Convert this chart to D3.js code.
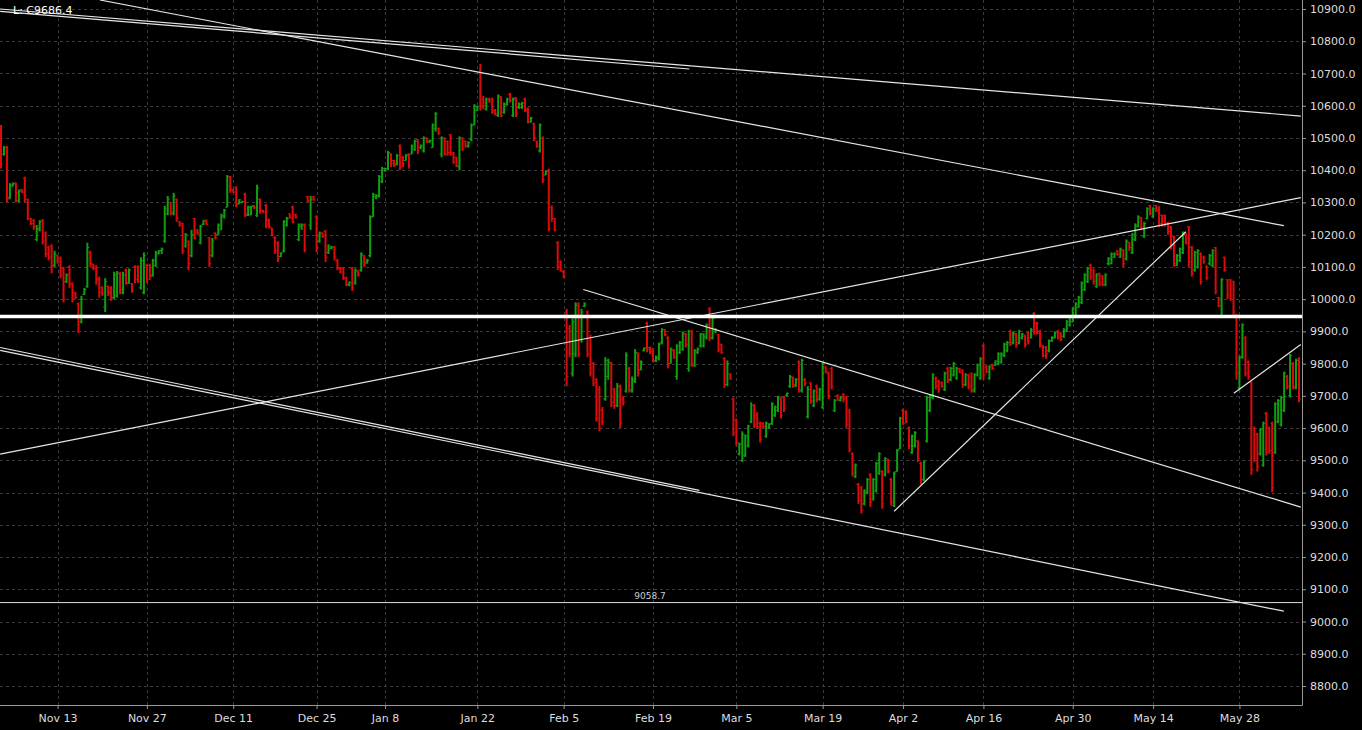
<!DOCTYPE html>
<html><head><meta charset="utf-8">
<script src="https://cdn.jsdelivr.net/npm/d3@7"></script>
<style>html,body{margin:0;padding:0;background:#000;overflow:hidden}</style>
</head><body><svg id="c" width="1362" height="730"></svg>
<script>
// OHLC bars [open, high, low, close], grouped by the date label that precedes them
const preNov13=[[10500,10540,10405,10420],[10450,10475,10445,10470],[10470,10475,10300,10310],[10315,10360,10310,10355],[10350,10362,10350,10358],[10360,10362,10300,10330],[10305,10340,10300,10335],[10340,10342,10330,10332],[10375,10380,10300,10320],[10310,10312,10245,10250],[10250,10252,10230,10235],[10245,10248,10215,10225],[10185,10230,10180,10220],[10215,10245,10210,10240],[10245,10248,10170,10180],[10205,10210,10130,10140],[10160,10165,10120,10130],[10165,10170,10080,10100],[10105,10150,10100,10140]];
const nov13=[[10135,10137,10110,10115],[10130,10132,10065,10075],[10095,10100,9990,10000],[10055,10080,10050,10075],[10100,10105,10035,10045],[10050,10052,9990,10000],[10020,10022,10000,10005],[9985,9990,9895,9920],[9930,10010,9925,10000],[10015,10035,10013,10030],[10040,10175,10035,10160],[10145,10150,10100,10110],[10108,10110,10090,10095],[10100,10105,10045,10060],[10065,10070,10005,10020],[10035,10040,10010,10015],[9975,10065,9960,10055],[10040,10042,10010,10020],[10035,10040,9995,10000],[10005,10085,10000,10075],[10010,10087,10005,10080],[10080,10085,10015,10030],[10020,10085,10015,10075],[10090,10095,10045,10050],[10050,10095,10048,10090],[10048,10050,10020,10025],[10100,10105,10050,10060],[10100,10105,10050,10055],[10035,10130,10030,10120],[10020,10145,10015,10135]];
const nov27=[[10105,10110,10050,10060],[10105,10110,10060,10070],[10075,10125,10070,10120],[10105,10150,10100,10145],[10140,10152,10140,10150],[10150,10160,10140,10155],[10180,10290,10175,10280],[10265,10320,10260,10310],[10300,10302,10260,10270],[10265,10330,10260,10320],[10310,10312,10240,10250],[10240,10242,10225,10230],[10235,10237,10140,10150],[10165,10205,10160,10200],[10180,10182,10090,10110],[10135,10215,10130,10200],[10250,10252,10185,10190],[10215,10217,10200,10205],[10175,10230,10170,10225],[10232,10245,10230,10243],[10245,10247,10230,10233],[10190,10192,10100,10110],[10135,10190,10130,10180],[10205,10207,10185,10190],[10200,10235,10200,10230],[10215,10265,10215,10260],[10255,10280,10250,10275],[10285,10385,10285,10380],[10380,10382,10330,10340]];
const dec11=[[10340,10342,10330,10332],[10345,10350,10285,10295],[10295,10310,10295,10308],[10300,10305,10298,10303],[10325,10330,10255,10265],[10260,10290,10258,10285],[10262,10290,10260,10287],[10290,10292,10280,10283],[10260,10355,10255,10345],[10310,10312,10265,10275],[10275,10277,10268,10270],[10290,10295,10220,10230],[10245,10250,10220,10225],[10220,10222,10195,10200],[10190,10195,10140,10150],[10175,10180,10115,10125],[10132,10145,10130,10143],[10150,10245,10145,10240],[10230,10255,10225,10250],[10265,10265,10250,10252],[10285,10290,10235,10240],[10262,10265,10250,10255],[10185,10235,10180,10230],[10225,10235,10215,10230],[10230,10235,10145,10155],[10318,10320,10300,10305],[10230,10320,10215,10310],[10318,10320,10305,10308]];
const dec25=[[10255,10260,10145,10160],[10180,10210,10175,10205],[10205,10207,10190,10195],[10210,10215,10115,10130],[10145,10170,10140,10165],[10158,10165,10155,10162],[10160,10165,10120,10130],[10120,10125,10090,10095],[10098,10100,10080,10085],[10095,10100,10060,10065],[10065,10070,10040,10045],[10045,10055,10040,10052],[10095,10100,10025,10035],[10050,10095,10045,10090],[10085,10090,10070,10075],[10090,10145,10085,10140],[10135,10137,10100,10110],[10115,10125,10110,10120],[10135,10260,10130,10255],[10255,10330,10255,10325],[10318,10325,10310,10322],[10320,10385,10315,10380],[10365,10410,10360,10405]];
const jan8=[[10400,10408,10395,10405],[10405,10460,10400,10455],[10450,10452,10410,10420],[10430,10432,10410,10415],[10420,10450,10415,10445],[10475,10480,10400,10410],[10440,10445,10410,10420],[10430,10450,10430,10445],[10450,10452,10405,10415],[10450,10480,10450,10475],[10465,10495,10460,10490],[10495,10497,10450,10460],[10470,10480,10465,10475],[10460,10505,10455,10500],[10500,10502,10485,10488],[10488,10495,10485,10492],[10470,10545,10470,10540],[10530,10580,10520,10575],[10530,10532,10510,10515],[10450,10505,10440,10500],[10500,10502,10445,10450],[10490,10492,10445,10455],[10510,10512,10445,10450],[10455,10457,10420,10425],[10440,10442,10410,10415],[10410,10505,10400,10500],[10500,10502,10460,10465],[10490,10492,10470,10475],[10475,10490,10470,10485],[10495,10545,10490,10540],[10540,10605,10540,10600]];
const jan22=[[10585,10600,10585,10598],[10700,10730,10585,10600],[10620,10630,10590,10600],[10590,10625,10585,10620],[10620,10625,10610,10612],[10620,10625,10575,10580],[10585,10590,10570,10575],[10570,10635,10565,10630],[10625,10630,10565,10570],[10580,10610,10575,10605],[10605,10625,10600,10620],[10635,10640,10610,10615],[10570,10625,10565,10620],[10625,10627,10565,10575],[10595,10610,10590,10605],[10595,10612,10590,10608],[10620,10625,10580,10585],[10590,10595,10545,10550],[10550,10565,10548,10562],[10545,10547,10490,10500],[10490,10492,10470,10475],[10460,10545,10455,10540],[10500,10505,10360,10370],[10385,10400,10385,10395],[10400,10405,10210,10220],[10285,10290,10240,10250],[10250,10252,10210,10215],[10175,10180,10090,10100],[10115,10120,10085,10090]];
const feb5=[[10085,10090,10065,10070],[9960,9970,9730,9760],[9910,9920,9820,9830],[9770,9940,9760,9930],[9830,9990,9820,9980],[9985,9990,9820,9830],[9875,9970,9865,9960],[9978,9990,9975,9985],[9960,9965,9820,9830],[9880,9890,9760,9770],[9800,9805,9730,9740],[9750,9755,9620,9630],[9720,9730,9590,9600],[9655,9665,9610,9620],[9690,9820,9685,9810],[9760,9815,9750,9805],[9800,9805,9665,9680],[9720,9725,9660,9670],[9670,9740,9665,9730],[9730,9735,9600,9615],[9690,9700,9670,9680],[9715,9835,9710,9825],[9785,9790,9710,9720],[9715,9760,9710,9750],[9745,9845,9740,9835],[9830,9835,9760,9770],[9780,9810,9780,9805],[9840,9850,9838,9848],[9925,9930,9835,9845],[9850,9852,9830,9838]];
const feb19=[[9845,9847,9805,9810],[9808,9825,9805,9820],[9815,9865,9810,9860],[9865,9910,9860,9905],[9905,9907,9885,9890],[9880,9885,9785,9795],[9800,9850,9800,9845],[9840,9845,9815,9820],[9760,9860,9750,9855],[9835,9870,9830,9865],[9845,9900,9840,9895],[9890,9895,9850,9858],[9785,9905,9775,9900],[9900,9905,9790,9800],[9795,9845,9790,9840],[9835,9850,9830,9845],[9855,9895,9850,9890],[9855,9895,9850,9885],[9880,9925,9875,9920],[9970,9975,9870,9880],[9880,9945,9875,9940],[9900,9910,9895,9905],[9890,9892,9835,9845],[9860,9862,9830,9835],[9815,9820,9725,9735],[9735,9810,9730,9800],[9768,9770,9750,9752],[9690,9695,9575,9585]];
const mar5=[[9625,9630,9545,9555],[9520,9555,9515,9550],[9500,9590,9495,9580],[9515,9580,9510,9575],[9545,9610,9540,9605],[9620,9680,9615,9670],[9670,9675,9600,9610],[9640,9650,9600,9605],[9615,9620,9555,9565],[9615,9618,9600,9605],[9575,9620,9570,9615],[9600,9615,9598,9612],[9615,9680,9610,9675],[9640,9670,9635,9665],[9655,9700,9650,9695],[9690,9695,9630,9640],[9695,9700,9650,9660],[9700,9710,9698,9708],[9730,9765,9725,9760],[9755,9760,9725,9735],[9730,9755,9728,9750],[9805,9810,9710,9720],[9715,9815,9710,9810],[9750,9755,9730,9740],[9635,9730,9630,9720],[9740,9742,9675,9685],[9670,9720,9665,9715],[9730,9735,9680,9690],[9690,9725,9685,9720]];
const mar19=[[9665,9805,9660,9800],[9790,9792,9770,9775],[9770,9775,9690,9700],[9785,9790,9720,9730],[9655,9690,9650,9685],[9700,9705,9685,9690],[9685,9700,9683,9695],[9705,9708,9680,9690],[9695,9700,9600,9610],[9650,9660,9525,9535],[9520,9525,9450,9460],[9450,9490,9445,9485],[9425,9430,9365,9375],[9415,9420,9335,9345],[9365,9410,9360,9405],[9400,9445,9395,9440],[9455,9460,9355,9370],[9380,9445,9375,9440],[9405,9495,9400,9490],[9460,9525,9455,9520],[9465,9470,9350,9365],[9455,9510,9450,9505],[9500,9505,9460,9465],[9440,9445,9360,9370],[9360,9465,9355,9460],[9465,9535,9465,9530],[9535,9635,9535,9630]];
const apr2=[[9655,9660,9610,9615],[9650,9655,9615,9620],[9600,9605,9535,9545],[9525,9580,9520,9575],[9545,9590,9540,9585],[9560,9562,9495,9505],[9490,9495,9425,9440],[9440,9500,9435,9495],[9560,9700,9555,9695],[9655,9705,9650,9700],[9695,9770,9690,9765],[9755,9760,9720,9730],[9745,9750,9710,9720],[9740,9745,9725,9730],[9720,9775,9715,9770],[9785,9790,9740,9750],[9750,9790,9745,9785],[9765,9805,9760,9800],[9755,9790,9750,9785],[9785,9787,9770,9772],[9780,9782,9725,9735],[9735,9770,9730,9765],[9765,9768,9720,9730],[9770,9772,9710,9720],[9715,9770,9710,9765],[9765,9800,9760,9795],[9755,9820,9750,9815]];
const apr16=[[9855,9860,9750,9765],[9790,9795,9770,9775],[9755,9795,9750,9790],[9795,9800,9780,9785],[9795,9810,9793,9808],[9800,9835,9795,9830],[9805,9835,9800,9830],[9825,9865,9820,9860],[9840,9870,9835,9865],[9900,9905,9855,9860],[9865,9900,9860,9895],[9890,9895,9850,9860],[9865,9905,9860,9900],[9880,9895,9875,9892],[9885,9890,9850,9860],[9895,9900,9860,9870],[9880,9910,9878,9905],[9955,9960,9890,9900],[9925,9930,9890,9895],[9900,9905,9850,9860],[9855,9858,9820,9825],[9850,9855,9815,9830],[9840,9875,9835,9870],[9870,9885,9868,9880],[9880,9900,9878,9895],[9900,9905,9875,9880],[9895,9897,9870,9875],[9885,9910,9880,9905],[9900,9935,9898,9930],[9920,9950,9915,9945]];
const apr30=[[9930,9975,9928,9970],[9950,9990,9948,9985],[9975,10010,9973,10005],[9990,10055,9985,10050],[10030,10080,10025,10075],[10055,10100,10050,10095],[10105,10110,10060,10070],[10090,10095,10045,10055],[10040,10080,10035,10075],[10080,10082,10040,10050],[10070,10075,10040,10045],[10045,10080,10040,10075],[10110,10130,10105,10125],[10110,10145,10108,10140],[10130,10145,10128,10140],[10150,10152,10135,10138],[10130,10160,10128,10155],[10150,10155,10100,10110],[10125,10185,10120,10180],[10175,10178,10150,10160],[10145,10205,10140,10200],[10185,10235,10180,10230],[10225,10260,10222,10255],[10250,10255,10215,10225],[10195,10240,10190,10235],[10250,10285,10248,10280],[10290,10292,10260,10265]];
const may14=[[10255,10285,10252,10280],[10290,10292,10270,10275],[10285,10288,10225,10235],[10260,10262,10225,10230],[10260,10262,10225,10235],[10235,10240,10200,10210],[10225,10227,10155,10165],[10195,10197,10100,10110],[10105,10140,10103,10135],[10120,10160,10115,10155],[10145,10210,10140,10205],[10200,10205,10170,10175],[10225,10227,10100,10115],[10160,10165,10070,10080],[10090,10150,10085,10145],[10100,10155,10095,10150],[10140,10145,10045,10055],[10130,10135,10110,10115],[10100,10105,10060,10065],[10110,10140,10105,10135],[10105,10155,10100,10150],[10160,10162,10015,10025],[10005,10007,9975,9980],[9950,10065,9945,10060],[10130,10132,10085,10090],[10060,10062,10000,10010],[10060,10062,9995,10000],[10055,10057,9950,9960],[9950,9955,9750,9770]];
const may28=[[9725,9825,9720,9820],[9820,9925,9815,9920],[9880,9885,9760,9770],[9805,9810,9750,9760],[9740,9745,9455,9470],[9600,9605,9495,9505],[9580,9585,9465,9480],[9520,9600,9515,9595],[9485,9620,9480,9615],[9645,9650,9515,9525],[9600,9605,9520,9530],[9615,9620,9400,9415],[9525,9680,9520,9675],[9620,9690,9615,9685],[9610,9700,9605,9695],[9655,9775,9650,9770],[9760,9765,9720,9730],[9700,9830,9695,9825],[9800,9805,9720,9730],[9725,9815,9720,9810],[9815,9820,9680,9690]];

const segments=[preNov13,nov13,nov27,dec11,dec25,jan8,jan22,feb5,feb19,mar5,mar19,apr2,apr16,apr30,may14,may28];
const tickLabels=[null,"Nov 13","Nov 27","Dec 11","Dec 25","Jan 8","Jan 22","Feb 5","Feb 19","Mar 5","Mar 19","Apr 2","Apr 16","Apr 30","May 14","May 28"];
const priceTicks=d3.range(8800,10901,100);
// trend lines: [index1, price1, index2, price2]
const trendLines=[[-0.3,10900,436.6,10568],[-0.3,10893,231.2,10714],[33.2,10928,430.9,10228],[-0.3,9519,436.6,10315],[195.6,10030,436.6,9355],[-0.3,9850,234.6,9407],[-0.3,9841,430.9,9032],[300.0,9342,398.0,10209],[414.1,9708,436.6,9859]];
const thickLevel=9946;
const markLevel=9058.7;
const infoText="L: C9686.4";

const bars=[];const tickIdx=[];
segments.forEach((s,k)=>{ if(tickLabels[k]) tickIdx.push({i:bars.length,label:tickLabels[k]}); s.forEach(b=>bars.push(b)); });
const N=bars.length;
const W=1302,H=705;
const x=d3.scaleLinear().domain([0,N-1]).range([1,1299]);
const y=d3.scaleLinear().domain([8741,10928]).range([H,0]);
const svg=d3.select("#c");
svg.append("rect").attr("width",1362).attr("height",730).attr("fill","#000");
const defs=svg.append("defs");
defs.append("clipPath").attr("id","pc").append("rect").attr("width",W).attr("height",H);
const grid=svg.append("g").attr("stroke","#3a3a3a").attr("stroke-dasharray","3,3").attr("stroke-width",1);
priceTicks.forEach(p=>grid.append("line").attr("x1",0).attr("x2",W).attr("y1",Math.round(y(p))+0.5).attr("y2",Math.round(y(p))+0.5));
tickIdx.forEach(t=>grid.append("line").attr("x1",Math.round(x(t.i))+0.5).attr("x2",Math.round(x(t.i))+0.5).attr("y1",0).attr("y2",H));
const plot=svg.append("g").attr("clip-path","url(#pc)");
const red="#dd0a0a",green="#0fa00f";
bars.forEach((b,i)=>{
  const [o,h,l,c]=b;const cx=x(i);const col=c>=o?green:red;
  plot.append("line").attr("x1",cx).attr("x2",cx).attr("y1",y(h)).attr("y2",Math.max(y(l),y(h)+2)).attr("stroke",col).attr("stroke-width",2);
  plot.append("line").attr("x1",cx-2).attr("x2",cx).attr("y1",y(o)).attr("y2",y(o)).attr("stroke",col).attr("stroke-width",1);
  plot.append("line").attr("x1",cx).attr("x2",cx+2).attr("y1",y(c)).attr("y2",y(c)).attr("stroke",col).attr("stroke-width",1);
});
trendLines.forEach(t=>plot.append("line").attr("x1",x(t[0])).attr("y1",y(t[1])).attr("x2",x(t[2])).attr("y2",y(t[3])).attr("stroke","#e6e6e6").attr("stroke-width",1.2));
plot.append("line").attr("x1",0).attr("x2",W).attr("y1",y(thickLevel)).attr("y2",y(thickLevel)).attr("stroke","#fff").attr("stroke-width",3.5);
plot.append("line").attr("x1",0).attr("x2",W).attr("y1",y(markLevel)).attr("y2",y(markLevel)).attr("stroke","#ddd").attr("stroke-width",1);
svg.append("text").attr("x",650).attr("y",y(markLevel)-4).attr("text-anchor","middle").attr("fill","#ccc").attr("font-family","DejaVu Sans").attr("font-size",9).text(markLevel.toFixed(1));
svg.append("text").attr("x",13).attr("y",14).attr("fill","#fff").attr("font-family","DejaVu Sans").attr("font-size",11).text(infoText);
// frame
svg.append("line").attr("x1",W+0.5).attr("x2",W+0.5).attr("y1",0).attr("y2",H+0.5).attr("stroke","#999");
svg.append("line").attr("x1",0).attr("x2",W+0.5).attr("y1",H+0.5).attr("y2",H+0.5).attr("stroke","#999");
// axes
const yAxis=d3.axisRight(y).tickValues(priceTicks).tickFormat(d=>d.toFixed(1)).tickSize(4);
const ya=svg.append("g").attr("transform",`translate(${W},0)`).call(yAxis);
ya.select(".domain").remove();
ya.selectAll("line").attr("stroke","#999");
ya.selectAll("text").attr("fill","#ddd").attr("font-family","DejaVu Sans").attr("font-size",11).attr("x",8);
const xAxis=d3.axisBottom(x).tickValues(tickIdx.map(t=>t.i)).tickFormat((d,i)=>tickIdx[i].label).tickSize(4);
const xa=svg.append("g").attr("transform",`translate(0,${H})`).call(xAxis);
xa.select(".domain").remove();
xa.selectAll("line").attr("stroke","#999");
xa.selectAll("text").attr("fill","#ddd").attr("font-family","DejaVu Sans").attr("font-size",11).attr("dy","0.9em");
</script></body></html>
